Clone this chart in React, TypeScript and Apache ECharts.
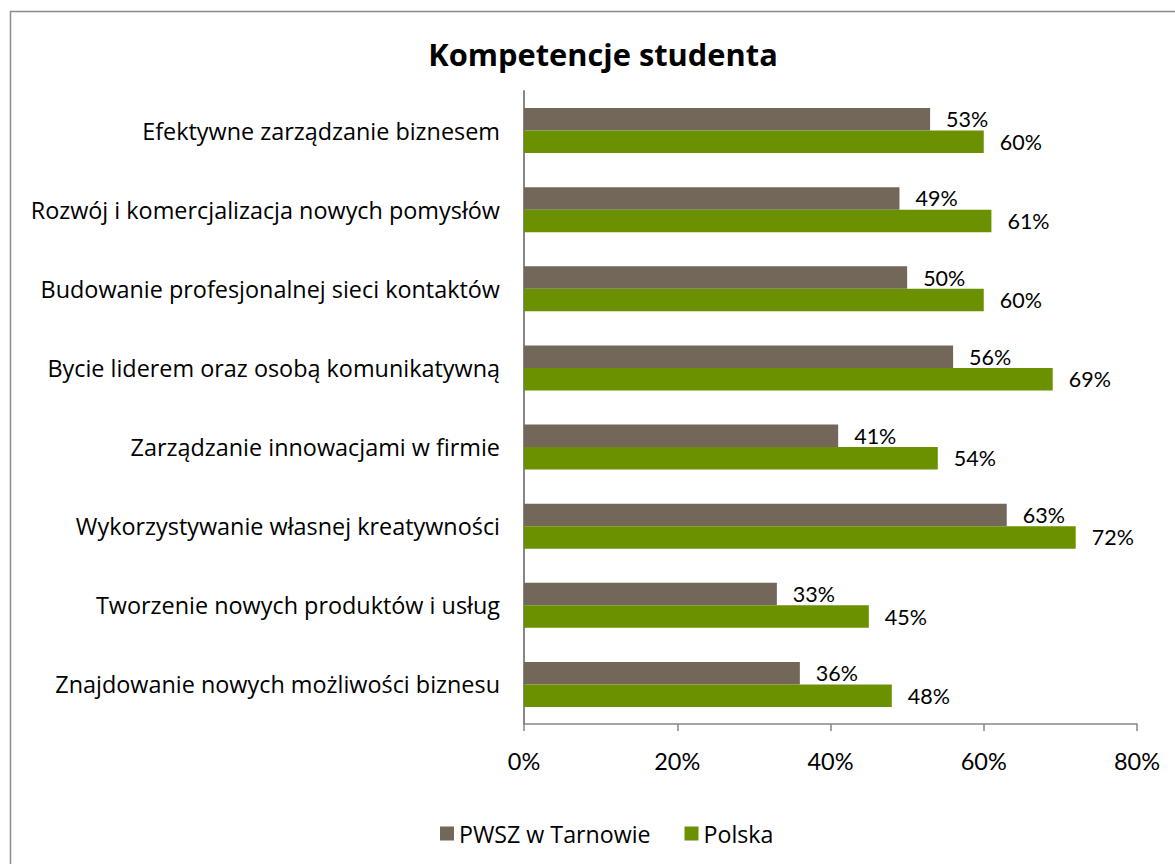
import React, { useEffect, useRef } from "react";
import * as echarts from "echarts";

const categories = [
  "Efektywne zarządzanie biznesem",
  "Rozwój i komercjalizacja nowych pomysłów",
  "Budowanie profesjonalnej sieci kontaktów",
  "Bycie liderem oraz osobą komunikatywną",
  "Zarządzanie innowacjami w firmie",
  "Wykorzystywanie własnej kreatywności",
  "Tworzenie nowych produktów i usług",
  "Znajdowanie nowych możliwości biznesu",
];
const pwsz = [53, 49, 50, 56, 41, 63, 33, 36];
const polska = [60, 61, 60, 69, 54, 72, 45, 48];
const seriesNames = ["PWSZ w Tarnowie", "Polska"];
const title = "Kompetencje studenta";

const FONT = "Lato";
const TFONT = "Open Sans";

export default function App() {
  const ref = useRef<HTMLDivElement>(null);
  useEffect(() => {
    const chart = echarts.init(ref.current!, null, { renderer: "svg" });
    const labelStyle = {
      show: true,
      position: "right",
      distance: 16,
      formatter: "{c}%",
      color: "#000",
      fontFamily: FONT,
      fontSize: 21.5,
    };
    chart.setOption({
      animation: false,
      backgroundColor: "#fff",
      title: {
        text: title,
        left: 598,
        textAlign: "center",
        top: 33,
        textStyle: { fontFamily: TFONT, fontWeight: "bold", fontSize: 30.8, color: "#000" },
      },
      graphic: [
        {
          type: "rect",
          shape: { x: 10.5, y: 11.5, width: 1300, height: 1000 },
          style: { fill: "none", stroke: "#8a8a8a", lineWidth: 1.5 },
          silent: true,
        },
      ],
      legend: {
        left: 435,
        top: 817,
        itemWidth: 14,
        itemHeight: 14,
        itemGap: 34,
        itemTextGap: 8,
        icon: "rect",
        textStyle: { fontFamily: TFONT, fontSize: 23.2, color: "#000" },
        data: seriesNames,
      },
      grid: { left: 524, right: 38, top: 91, bottom: 140, containLabel: false },
      xAxis: {
        type: "value",
        min: 0,
        max: 80,
        interval: 20,
        axisLine: { show: true, lineStyle: { color: "#868686", width: 1.5 } },
        axisTick: { show: true, length: 7, lineStyle: { color: "#868686", width: 1.5 } },
        splitLine: { show: false },
        axisLabel: {
          formatter: "{value}%",
          margin: 25,
          color: "#000",
          fontFamily: FONT,
          fontSize: 23.5,
        },
      },
      yAxis: {
        type: "category",
        inverse: true,
        data: categories,
        axisLine: { show: true, lineStyle: { color: "#868686", width: 2 } },
        axisTick: { show: false },
        axisLabel: { margin: 24, color: "#000", fontFamily: TFONT, fontSize: 23.4 },
      },
      series: [
        {
          name: seriesNames[0],
          type: "bar",
          data: pwsz,
          barGap: "0%",
          barCategoryGap: "43%",
          itemStyle: { color: "#726759" },
          label: labelStyle,
        },
        {
          name: seriesNames[1],
          type: "bar",
          data: polska,
          barGap: "0%",
          barCategoryGap: "43%",
          itemStyle: { color: "#6b9100" },
          label: labelStyle,
        },
      ],
    });
    return () => chart.dispose();
  }, []);
  return (
    <div
      ref={ref}
      style={{ position: "fixed", left: 0, top: 0, width: 1175, height: 864 }}
    />
  );
}
